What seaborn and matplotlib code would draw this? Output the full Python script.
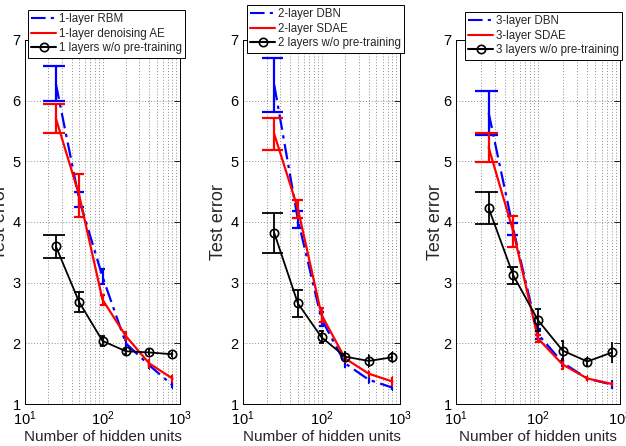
import numpy as np
import pandas as pd
import seaborn as sns
import matplotlib
matplotlib.use('Agg')
import matplotlib.pyplot as plt
from matplotlib.ticker import LogLocator, NullFormatter

# hidden units on the x axis
units = [25, 50, 100, 200, 400, 800]

# panel 1
rbm1 = [6.28, 4.37, 3.10, 2.00, 1.64, 1.31]
rbm1_err = [0.29, 0.13, 0.12, 0.10, 0.06, 0.05]
dae1 = [5.71, 4.44, 2.72, 2.12, 1.67, 1.42]
dae1_err = [0.24, 0.35, 0.08, 0.06, 0.07, 0.06]
raw1 = [3.60, 2.68, 2.04, 1.87, 1.85, 1.82]
raw1_err = [0.19, 0.17, 0.08, 0.04, 0.05, 0.04]

# panel 2
dbn2 = [6.26, 4.04, 2.40, 1.67, 1.40, 1.27]
dbn2_err = [0.44, 0.14, 0.12, 0.06, 0.05, 0.04]
sdae2 = [5.45, 4.22, 2.47, 1.75, 1.50, 1.37]
sdae2_err = [0.27, 0.15, 0.12, 0.05, 0.05, 0.08]
raw2 = [3.82, 2.66, 2.10, 1.78, 1.71, 1.77]
raw2_err = [0.33, 0.22, 0.10, 0.07, 0.10, 0.08]

# panel 3
dbn3 = [5.80, 3.88, 2.15, 1.68, 1.42, 1.32]
dbn3_err = [0.36, 0.10, 0.08, 0.06, 0.04, 0.08]
sdae3 = [5.23, 3.84, 2.08, 1.65, 1.42, 1.33]
sdae3_err = [0.24, 0.26, 0.06, 0.07, 0.04, 0.03]
raw3 = [4.23, 3.12, 2.38, 1.88, 1.70, 1.85]
raw3_err = [0.27, 0.14, 0.18, 0.16, 0.07, 0.17]

labels1 = ['1-layer RBM', '1-layer denoising AE', '1 layers w/o pre-training']
labels2 = ['2-layer DBN', '2-layer SDAE', '2 layers w/o pre-training']
labels3 = ['3-layer DBN', '3-layer SDAE', '3 layers w/o pre-training']

sns.set_style('white')
plt.rcParams['font.family'] = ['Liberation Sans', 'DejaVu Sans']
plt.rcParams['mathtext.default'] = 'regular'

W, H = 626, 446
fig = plt.figure(figsize=(W / 100, H / 100), dpi=100)

# axes boxes in pixels: left, right, top, bottom
boxes = [(25, 180, 40, 404), (243, 400, 40, 404), (456, 620, 40, 404)]
leg_pos = [(28, 10), (247, 5), (465, 12)]
ylab_off = [16, 16, 12]

panels = [
    (rbm1, rbm1_err, dae1, dae1_err, raw1, raw1_err, labels1),
    (dbn2, dbn2_err, sdae2, sdae2_err, raw2, raw2_err, labels2),
    (dbn3, dbn3_err, sdae3, sdae3_err, raw3, raw3_err, labels3),
]

tee = (max(units) - min(units)) / 100.0
x = np.array(units, dtype=float)

for (l, r, t, b), (lx, ly), yo, (pre, pre_e, ae, ae_e, raw, raw_e, labs) in zip(boxes, leg_pos, ylab_off, panels):
    ax = fig.add_axes([l / W, 1 - b / H, (r - l) / W, (b - t) / H])
    series = [
        (pre, pre_e, '#0000ff', '-.', None, labs[0], 1.6),
        (ae, ae_e, '#ff0000', '-', None, labs[1], 1.6),
        (raw, raw_e, 'black', '-', 'o', labs[2], 1.3),
    ]
    for vals, err, col, ls, mk, lab, lw in series:
        df = pd.DataFrame({'units': units, 'err': vals})
        kw = dict(color=col, linewidth=lw, label=lab)
        if mk:
            kw.update(marker='o', markersize=6, markerfacecolor='none',
                      markeredgecolor=col, markeredgewidth=1.2)
        sns.lineplot(data=df, x='units', y='err', ax=ax, **kw)
        if ls == '-.':
            ax.lines[-1].set_dashes([7, 2.5, 1.5, 2.5])
        v = np.array(vals)
        e = np.array(err)
        ax.vlines(x, v - e, v + e, color=col, linewidth=lw)
        ax.hlines(v - e, x - tee, x + tee, color=col, linewidth=lw)
        ax.hlines(v + e, x - tee, x + tee, color=col, linewidth=lw)

    ax.set_xscale('log')
    ax.set_xlim(10, 1000)
    ax.set_ylim(1, 7)
    ax.set_yticks([1, 2, 3, 4, 5, 6, 7])
    ax.xaxis.set_minor_locator(LogLocator(base=10, subs=np.arange(2, 10)))
    ax.xaxis.set_minor_formatter(NullFormatter())
    ax.grid(True, which='major', axis='both', color='#8c8c8c', linestyle=(0, (1, 2)), linewidth=0.7)
    ax.grid(True, which='minor', axis='x', color='#8c8c8c', linestyle=(0, (1, 2)), linewidth=0.7)
    ax.tick_params(which='both', direction='in', top=True, right=True, labelsize=10.5,
                   colors='black', pad=3)
    ax.tick_params(axis='x', which='major', pad=4)
    ax.tick_params(which='major', length=4, width=0.6)
    ax.tick_params(which='minor', length=2, width=0.6)
    for s in ax.spines.values():
        s.set_visible(True)
        s.set_color('black')
        s.set_linewidth(0.7)
    ax.set_xlabel('Number of hidden units', fontsize=11, labelpad=1)
    ax.set_ylabel('Test error', fontsize=13)
    ax.yaxis.set_label_coords(-yo / (r - l), 0.5)

    leg = ax.legend(loc='upper left',
                    bbox_to_anchor=((lx - l) / (r - l), (b - ly) / (b - t)),
                    borderaxespad=0, fontsize=8.3, frameon=True, fancybox=False,
                    handlelength=2.1, handletextpad=0.25, borderpad=0.3,
                    labelspacing=0.2, framealpha=1)
    leg.get_frame().set_edgecolor('black')
    leg.get_frame().set_linewidth(0.7)
    for h in leg.get_lines():
        h.set_linewidth(1.5)

fig.savefig('out.png', dpi=100)
